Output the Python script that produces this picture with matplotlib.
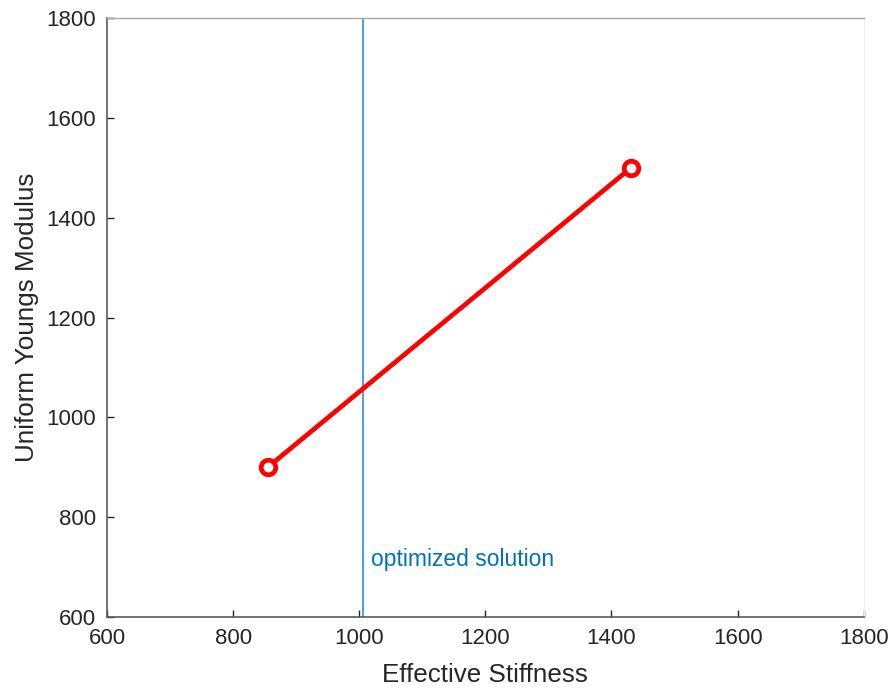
import matplotlib
matplotlib.use("Agg")
import matplotlib.pyplot as plt

# data
stiffness = [855, 1431]
youngs_modulus = [900, 1500]
optimized_x = 1006
optimized_label = "optimized solution"

x_ticks = [600, 800, 1000, 1200, 1400, 1600, 1800]
y_ticks = [600, 800, 1000, 1200, 1400, 1600, 1800]

plt.rcParams["font.family"] = ["Liberation Sans", "DejaVu Sans"]
TEXT = "#262626"

fig = plt.figure(figsize=(8.96, 6.94), dpi=100)
ax = fig.add_axes([0.1194, 0.111, 0.8446, 0.863])

ax.plot(stiffness, youngs_modulus, color="#ff0000", linewidth=3.4,
        marker="o", markersize=10.5, markerfacecolor="white",
        markeredgecolor="#ff0000", markeredgewidth=3.4, zorder=3)

ax.axvline(optimized_x, color="#4a9fd8", linewidth=1.4)
ax.text(optimized_x + 12, 716, optimized_label, color="#0072BD",
        fontsize=16.5, va="center", ha="left")

ax.set_xlim(x_ticks[0], x_ticks[-1])
ax.set_ylim(y_ticks[0], y_ticks[-1])
ax.set_xticks(x_ticks)
ax.set_yticks(y_ticks)
ax.tick_params(direction="in", length=5, width=1, colors=TEXT,
               labelsize=16, top=False, right=False, pad=8)
ax.set_xlabel("Effective Stiffness", fontsize=18.7, color=TEXT, labelpad=10)
ax.set_ylabel("Uniform Youngs Modulus", fontsize=18.7, color=TEXT, labelpad=5)

for side in ["left", "bottom"]:
    ax.spines[side].set_color("#5a5a5a")
    ax.spines[side].set_linewidth(1.2)
ax.spines["top"].set_color("#a8a8a8")
ax.spines["top"].set_linewidth(1.0)
ax.spines["right"].set_color("#f0f0f0")
ax.spines["right"].set_linewidth(1.0)

fig.savefig("out.png", dpi=100)
